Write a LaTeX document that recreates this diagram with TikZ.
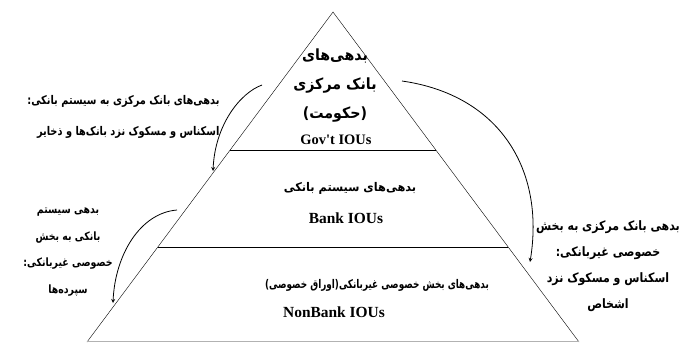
\documentclass[tikz,border=0pt]{standalone}
\usepackage{fontspec}
\usepackage{graphicx}
\setmainfont{Liberation Serif}
\newfontfamily\farsi[Script=Arabic]{DejaVu Sans}
\TeXXeTstate=1
% Persian text, optionally narrowed
\newcommand{\fa}[2][1]{\scalebox{#1}[1]{\farsi\bfseries\beginR #2\endR}}

\begin{document}
\begin{tikzpicture}[x=1bp,y=-1bp,
    level/.style={align=center,font=\fontsize{12}{15}\selectfont},
    toplevel/.style={align=center,font=\fontsize{15.5}{18}\selectfont},
    iou/.style={font=\bfseries\fontsize{15.5}{17}\selectfont},
    side/.style={align=center,font=\fontsize{13}{26}\selectfont},
    flow/.style={thick,-stealth}]
    \useasboundingbox (0,0) rectangle (681,342);

    % Pyramid outline
    \coordinate (apex) at (333,12);
    \coordinate (baseL) at (87,342);
    \coordinate (baseR) at (579,342);
    \draw (baseL) -- (apex) -- (baseR);
    \draw[gray!60] (87,341.6) -- (579,341.6);

    % Level borders
    \draw (230,150) -- (436,150);
    \draw (158,247) -- (508,247);

    % Top level: government
    \node[toplevel] (govfa) at (335,56) {\fa[0.92]{بدهی‌های}};
    \node[toplevel] (govfb) at (335,86) {\fa[0.92]{بانک مرکزی}};
    \node[toplevel] (govfc) at (335,115) {\fa[0.92]{(حکومت)}};
    \node[iou,font=\bfseries\fontsize{14.5}{16}\selectfont] (gov) at (336,140)
        {Gov\textquotesingle t IOUs};

    % Middle level: banks
    \node[level] (bankfa) at (350,188) {\fa[0.95]{بدهی‌های سیستم بانکی}};
    \node[iou] (bank) at (346,218) {Bank IOUs};

    % Bottom level: non-banks
    \node[level] (nonbankfa) at (377,285) {\fa[0.74]{بدهی‌های بخش خصوصی غیربانکی(اوراق خصوصی)}};
    \node[iou] (nonbank) at (334,312) {NonBank IOUs};

    % Side labels
    \node[side,align=right,anchor=east,font=\fontsize{12}{31}\selectfont]
        (cbtobank) at (223,117)
        {\fa[0.82]{بدهی‌های بانک مرکزی به سیستم بانکی:}\\
         \fa[0.82]{اسکناس و مسکوک نزد بانک‌ها و ذخایر}};
    \node[side,font=\fontsize{11.5}{26.5}\selectfont] (banktopriv) at (68,252)
        {\fa[0.82]{بدهی سیستم}\\\fa[0.82]{بانکی به بخش}\\
         \fa[0.82]{خصوصی غیربانکی:}\\\fa[0.82]{سپرده‌ها}};
    \node[side] (cbtopriv) at (608,266)
        {\fa[0.85]{بدهی بانک مرکزی به بخش}\\\fa[0.85]{خصوصی غیربانکی:}\\
         \fa[0.85]{اسکناس و مسکوک نزد}\\\fa[0.85]{اشخاص}};

    % Flow arrows
    \coordinate (a1s) at (262,85);
    \coordinate (a1e) at (213,171);
    \coordinate (a2s) at (177,210);
    \coordinate (a2e) at (113,303);
    \coordinate (a3s) at (402,81);
    \coordinate (a3e) at (530,262);
    \draw[flow] (a1s) .. controls (240,93) and (215,125) .. (a1e);
    \draw[flow] (a2s) .. controls (140,213) and (115,255) .. (a2e);
    \draw[flow] (a3s) .. controls (500,95) and (545,170) .. (a3e);
\end{tikzpicture}
\end{document}
